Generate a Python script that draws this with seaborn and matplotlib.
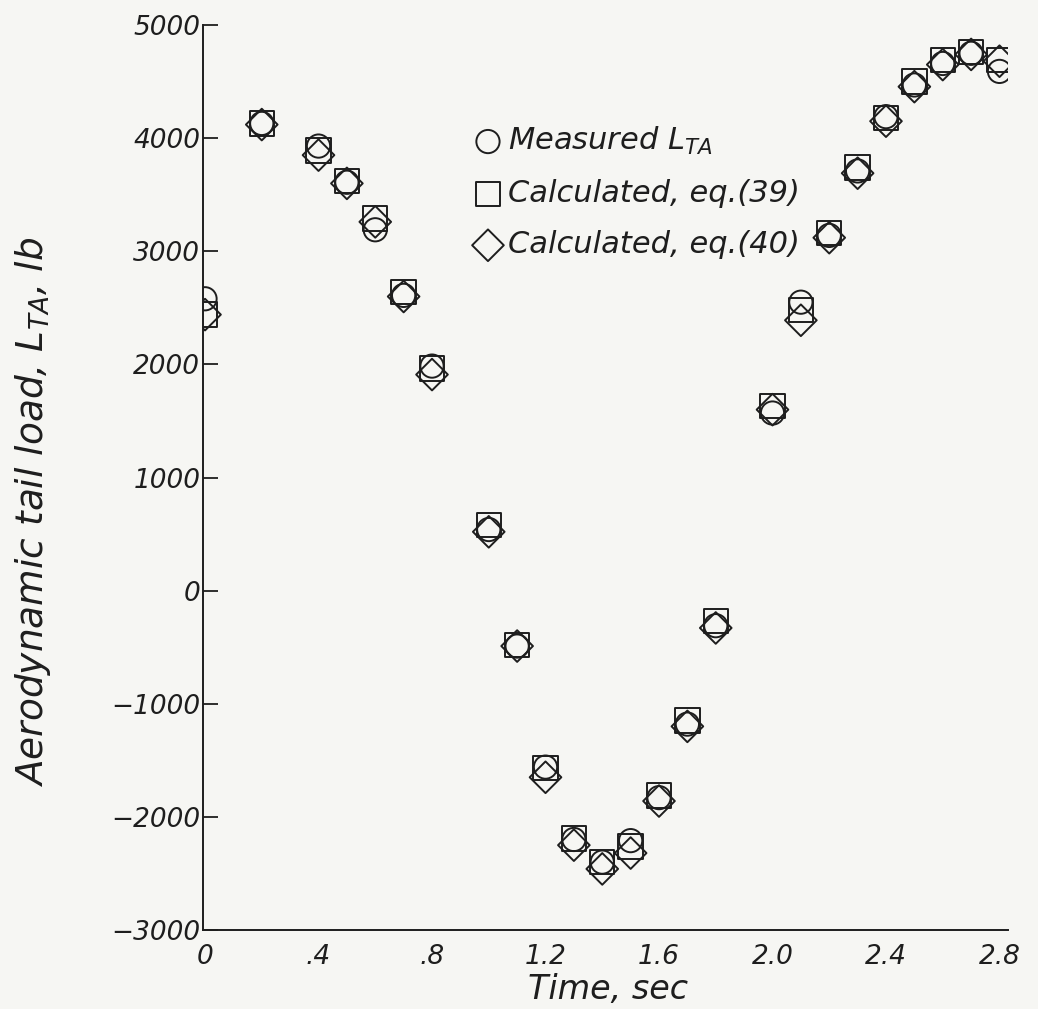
#!/usr/bin/env python3
"""
Aerodynamic tail load vs. time: measured L_TA against the two calculated
estimates (eq. 39 and eq. 40).
"""

import pandas as pd
import matplotlib
import matplotlib.pyplot as plt
import seaborn as sns

# -------------------- data --------------------
time_sec = [0.0, 0.2, 0.4, 0.5, 0.6, 0.7, 0.8, 1.0, 1.1, 1.2, 1.3, 1.4, 1.5,
            1.6, 1.7, 1.8, 2.0, 2.1, 2.2, 2.3, 2.4, 2.5, 2.6, 2.7, 2.8]

measured = [2580, 4130, 3930, 3610, 3190, 2610, 1985, 540, -490, -1560,
            -2200, -2400, -2210, -1830, -1180, -310, 1570, 2550, 3140,
            3710, 4190, 4470, 4660, 4750, 4590]

calc_eq39 = [2440, 4130, 3890, 3620, 3290, 2640, 1965, 580, -480, -1570,
             -2190, -2400, -2260, -1810, -1150, -270, 1630, 2480, 3160,
             3740, 4180, 4500, 4690, 4760, 4690]

calc_eq40 = [2440, 4120, 3850, 3600, 3260, 2600, 1910, 520, -490, -1650,
             -2250, -2460, -2320, -1860, -1200, -330, 1600, 2390, 3120,
             3690, 4150, 4455, 4650, 4740, 4680]

series_labels = ["Measured L$_{TA}$", "Calculated, eq.(39)", "Calculated, eq.(40)"]
y_ticks = [-3000, -2000, -1000, 0, 1000, 2000, 3000, 4000, 5000]
y_ticklabels = ["\u22123000", "\u22122000", "\u22121000", "0", "1000",
                "2000", "3000", "4000", "5000"]
x_ticks = [0, 0.4, 0.8, 1.2, 1.6, 2.0, 2.4, 2.8]
x_ticklabels = ["0", ".4", ".8", "1.2", "1.6", "2.0", "2.4", "2.8"]

INK = "#1e1e1e"
PAPER = "#f6f6f3"


def main():
    sns.set_theme(style="white")
    matplotlib.rcParams["font.family"] = ["DejaVu Sans"]
    matplotlib.rcParams["mathtext.fontset"] = "dejavusans"
    matplotlib.rcParams["mathtext.it"] = "DejaVu Sans:italic"

    df = pd.DataFrame({
        "time": time_sec * 3,
        "load": measured + calc_eq39 + calc_eq40,
        "series": ([series_labels[0]] * len(time_sec)
                   + [series_labels[1]] * len(time_sec)
                   + [series_labels[2]] * len(time_sec)),
    })

    fig = plt.figure(figsize=(10.38, 10.09), dpi=100, facecolor=PAPER)
    ax = fig.add_axes([0.1956, 0.0783, 0.7755, 0.8969])
    ax.set_facecolor(PAPER)

    # marker, size (pt^2) per series
    styles = {
        series_labels[0]: ("o", 280),
        series_labels[1]: ("s", 310),
        series_labels[2]: ("D", 260),
    }
    for name, (marker, size) in styles.items():
        sub = df[df["series"] == name]
        sns.scatterplot(
            data=sub, x="time", y="load", ax=ax,
            marker=marker, s=size,
            facecolor="none", edgecolor=INK, linewidth=1.4,
            label=name, zorder=3,
        )

    ax.set_xlim(-0.007, 2.83)
    ax.set_ylim(-3000, 5000)

    # only left and bottom axes, like the hand-drawn original
    for side in ["top", "right"]:
        ax.spines[side].set_visible(False)
    for side in ["left", "bottom"]:
        ax.spines[side].set_color(INK)
        ax.spines[side].set_linewidth(1.4)

    ax.set_yticks(y_ticks)
    ax.set_yticklabels(y_ticklabels, fontstyle="italic", fontsize=19, color=INK)
    ax.set_xticks(x_ticks)
    ax.set_xticklabels(x_ticklabels, fontstyle="italic", fontsize=19, color=INK)
    ax.tick_params(axis="y", direction="in", length=11, width=1.3,
                   color=INK, pad=2, left=True)
    ax.tick_params(axis="x", length=0, pad=10)

    ax.set_xlabel("Time, sec", fontstyle="italic", fontsize=24, color=INK)
    ax.set_ylabel("Aerodynamic tail load, L$_{TA}$, lb",
                  fontstyle="italic", fontsize=27, color=INK)
    ax.xaxis.set_label_coords(0.503, -0.047)
    ax.yaxis.set_label_coords(-0.187, 0.462)

    leg = ax.legend(
        loc="upper left", bbox_to_anchor=(0.335, 0.890),
        frameon=False, fontsize=22, handletextpad=0.15,
        handlelength=1.0, labelspacing=0.73, borderaxespad=0, borderpad=0,
    )
    for txt in leg.get_texts():
        txt.set_fontstyle("italic")
        txt.set_color(INK)

    fig.savefig("out.png", dpi=100, facecolor=PAPER)
    plt.close(fig)


if __name__ == "__main__":
    main()
